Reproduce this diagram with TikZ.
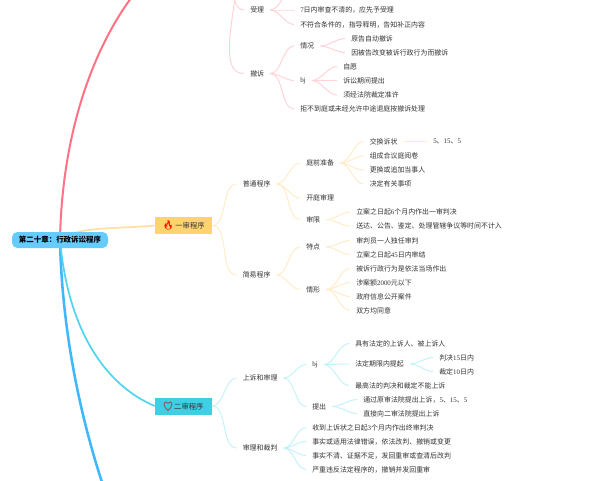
\documentclass[tikz,border=0pt]{standalone}
\usepackage{fontspec}
\setmainfont{Noto Sans CJK SC}
\newfontfamily\numfont{Liberation Serif}
\newfontfamily\emojifont{Noto Emoji}
\newfontfamily\symfont{DejaVu Sans}
\newcommand{\nm}[1]{{\numfont #1}}
\newcommand{\cm}{\symbol{"FF0C}}
\newcommand{\colonmark}{\symbol{"FF1A}}
\usetikzlibrary{backgrounds}
\definecolor{rootblue}{HTML}{66CCFF}
\definecolor{firstbox}{HTML}{FFD36E}
\definecolor{secondbox}{HTML}{3DCFE3}
\definecolor{mainred}{HTML}{FF7185}
\definecolor{mainorange}{HTML}{FFE0A0}
\definecolor{maincyan}{HTML}{4FD6EA}
\definecolor{mainblue}{HTML}{3DB8FF}
\definecolor{thinred}{HTML}{FFD3D8}
\definecolor{thinorange}{HTML}{FFECC8}
\definecolor{thincyan}{HTML}{C4F2FA}
\definecolor{inktext}{HTML}{333333}
\definecolor{heartline}{HTML}{8A5F5F}
\tikzset{
    leaf/.style={anchor=west, inner xsep=4.5pt, inner ysep=1pt, text=inktext,
      font=\fontsize{5.2}{6}\selectfont},
    topic/.style={minimum width=42.75pt, minimum height=12.75pt, inner sep=0pt, text=inktext,
      font=\fontsize{5.5}{6}\selectfont},
    branch/.style={line width=0.75pt, out=0, in=180, looseness=0.8},
}
\begin{document}
\begin{tikzpicture}[x=0.75pt, y=-0.75pt]
    \path[use as bounding box, clip] (0, 0) rectangle (600, 480);
    \node[fill=rootblue, rounded corners=4pt, minimum width=72pt, minimum height=12pt, inner sep=0pt,
      font=\fontsize{5.6}{6}\selectfont\bfseries] (root) at (60, 240) {第二十章\colonmark 行政诉讼程序};
    \node[topic, fill=firstbox] (first) at (183.5, 225.5)
      {{\emojifont\fontsize{7}{7}\selectfont\textcolor{red!85!orange}{🔥}}\,一审程序};
    \node[topic, fill=secondbox] (second) at (183.5, 406)
      {{\symfont\fontsize{8}{8}\selectfont\phantom{♡}}\,二审程序};
    \draw[heartline, line width=0.7pt] (168, 410.5) .. controls (163, 406.5) and (163.5, 402) .. (166, 402)
      .. controls (167, 402) and (167.6, 402.6) .. (168, 403.4)
      .. controls (168.4, 402.6) and (169, 402) .. (170, 402)
      .. controls (172.5, 402) and (173, 406.5) .. (168, 410.5) -- cycle;

    \coordinate (redend) at (142, -16);
    \coordinate (blueend) at (108, 500);
    \coordinate (redparent) at (222, -50);
    \coordinate (acceptup) at (292, -8);

    \node[leaf] (accept) at (244, 10) {受理};
    \node[leaf] (acceptb) at (294, 10) {\nm{7}日内审查不清的\cm 应先予受理};
    \node[leaf] (acceptc) at (294, 24.5) {不符合条件的\cm 指导释明\cm 告知补正内容};
    \node[leaf] (withdraw) at (244, 73.5) {撤诉};
    \node[leaf] (situation) at (294, 46) {情况};
    \node[leaf] (plaintiff) at (345, 38.5) {原告自动撤诉};
    \node[leaf] (defendant) at (345, 52.5) {因被告改变被诉行政行为而撤诉};
    \node[leaf] (bja) at (294, 80.5) {\nm{bj}};
    \node[leaf] (willing) at (337, 66.5) {自愿};
    \node[leaf] (period) at (337, 80.5) {诉讼期间提出};
    \node[leaf] (permit) at (337, 95) {须经法院裁定准许};
    \node[leaf] (refuse) at (294, 109) {拒不到庭或未经允许中途退庭按撤诉处理};

    \node[leaf] (normal) at (236.5, 184) {普通程序};
    \node[leaf] (prep) at (300, 163) {庭前准备};
    \node[leaf] (swap) at (363.5, 141.5) {交换诉状};
    \node[leaf] (days) at (427, 141.5) {\nm{5}、\nm{15}、\nm{5}};
    \node[leaf] (panel) at (363.5, 156) {组成合议庭阅卷};
    \node[leaf] (party) at (363.5, 170) {更换或追加当事人};
    \node[leaf] (matter) at (363.5, 184) {决定有关事项};
    \node[leaf] (open) at (300, 198) {开庭审理};
    \node[leaf] (limit) at (300, 219.5) {审限};
    \node[leaf] (six) at (350, 212) {立案之日起\nm{6}个月内作出一审判决};
    \node[leaf] (serve) at (350, 226) {送达、公告、鉴定、处理管辖争议等时间不计入};
    \node[leaf] (simple) at (236.5, 275) {简易程序};
    \node[leaf] (feature) at (300, 247) {特点};
    \node[leaf] (single) at (350, 240.5) {审判员一人独任审判};
    \node[leaf] (close) at (350, 254.5) {立案之日起\nm{45}日内审结};
    \node[leaf] (case) at (300, 289.5) {情形};
    \node[leaf] (spot) at (350, 268.5) {被诉行政行为是依法当场作出};
    \node[leaf] (amount) at (350, 282.5) {涉案额\nm{2000}元以下};
    \node[leaf] (public) at (350, 296.5) {政府信息公开案件};
    \node[leaf] (agree) at (350, 310.5) {双方均同意};

    \node[leaf] (appeal) at (236.5, 378) {上诉和审理};
    \node[leaf] (bjb) at (306, 364.5) {\nm{bj}};
    \node[leaf] (parties) at (349, 343.5) {具有法定的上诉人、被上诉人};
    \node[leaf] (term) at (349, 364) {法定期限内提起};
    \node[leaf] (judge) at (433, 357.5) {判决\nm{15}日内};
    \node[leaf] (rule) at (433, 371.5) {裁定\nm{10}日内};
    \node[leaf] (court) at (349, 385.5) {最高法的判决和裁定不能上诉};
    \node[leaf] (file) at (306, 406.5) {提出};
    \node[leaf] (origin) at (357, 399.5) {通过原审法院提出上诉\cm\nm{5}、\nm{15}、\nm{5}};
    \node[leaf] (direct) at (357, 413.5) {直接向二审法院提出上诉};
    \node[leaf] (verdict) at (236.5, 448) {审理和裁判};
    \node[leaf] (three) at (306, 427.5) {收到上诉状之日起\nm{3}个月内作出终审判决};
    \node[leaf] (wrong) at (306, 441.5) {事实或适用法律错误\cm 依法改判、撤销或变更};
    \node[leaf] (unclear) at (306, 455.5) {事实不清、证据不足\cm 发回重审或查清后改判};
    \node[leaf] (severe) at (306, 469.5) {严重违反法定程序的\cm 撤销并发回重审};

    \begin{scope}[on background layer]
      \draw[mainred, line width=1.5pt] (root.center) .. controls (62, 130) and (95, 40) .. (redend);
      \draw[mainblue, line width=1.9pt] (root.center) .. controls (62, 330) and (80, 420) .. (blueend);
      \draw[maincyan, line width=1.3pt] (root.center) .. controls (68, 330) and (105, 385) .. (second.west);
      \draw[mainorange, line width=1.3pt] (root.center) .. controls (75, 226) and (120, 229) .. (first.west);

      \draw[thinred, branch] (redparent) to (accept.west);
      \draw[thinred, branch] (redparent) to (withdraw.west);
      \foreach \from/\kid in {accept/acceptup, withdraw/situation, withdraw/bja, withdraw/refuse} {
        \draw[thinred, branch] (\from.east) to (\kid);
      }
      \foreach \from/\kid in {accept/acceptb, accept/acceptc, situation/plaintiff, situation/defendant,
        bja/willing, bja/period, bja/permit} {
        \draw[thinred, branch] (\from.east) to (\kid.west);
      }
      \foreach \from/\kid in {first/normal, first/simple, normal/prep, normal/open, normal/limit,
        prep/swap, prep/panel, prep/party, prep/matter, swap/days, limit/six, limit/serve,
        simple/feature, simple/case, feature/single, feature/close,
        case/spot, case/amount, case/public, case/agree} {
        \draw[thinorange, branch] (\from.east) to (\kid.west);
      }
      \foreach \from/\kid in {second/appeal, second/verdict, appeal/bjb, appeal/file,
        bjb/parties, bjb/term, bjb/court, term/judge, term/rule, file/origin, file/direct,
        verdict/three, verdict/wrong, verdict/unclear, verdict/severe} {
        \draw[thincyan, branch] (\from.east) to (\kid.west);
      }
    \end{scope}
\end{tikzpicture}
\end{document}
